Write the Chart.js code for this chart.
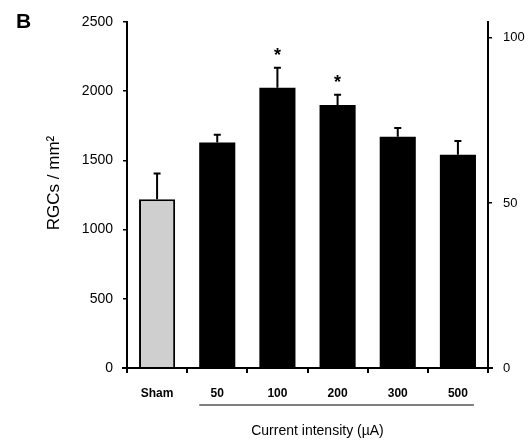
<!DOCTYPE html>
<html>
<head>
<meta charset="utf-8">
<script src="https://cdn.jsdelivr.net/npm/chart.js@4/dist/chart.umd.min.js"></script>
<style>
  body { margin: 0; background: #fff; }
  #wrap { width: 530px; height: 441px; position: relative; }
</style>
</head>
<body>
<div id="wrap"><canvas id="rgcChart" width="530" height="441"></canvas></div>
<script>
// data
const categories = ['Sham', '50', '100', '200', '300', '500'];
const rgcMeans = [1220, 1630, 2025, 1900, 1670, 1540];
const rgcErrors = [185, 55, 145, 75, 65, 100];
const significant = [false, false, true, true, false, false];
const leftTicks = [0, 500, 1000, 1500, 2000, 2500];
const rightTicks = [0, 50, 100];

const FONT = '"Liberation Sans", Arial, sans-serif';

// error bars, asterisks, panel letter, axis titles and the underline below the stimulated groups
const extras = {
    id: 'extras',
    afterDatasetsDraw(chart) {
        const ctx = chart.ctx;
        const x = chart.scales.x;
        const y = chart.scales.y;
        const area = chart.chartArea;
        ctx.save();
        ctx.strokeStyle = '#000';
        ctx.fillStyle = '#000';
        ctx.lineWidth = 2;
        rgcMeans.forEach((m, i) => {
            const cx = x.getPixelForValue(i);
            const yTop = y.getPixelForValue(m);
            const yErr = y.getPixelForValue(m + rgcErrors[i]);
            ctx.beginPath();
            ctx.moveTo(cx, yTop);
            ctx.lineTo(cx, yErr);
            ctx.moveTo(cx - 3.5, yErr);
            ctx.lineTo(cx + 3.5, yErr);
            ctx.stroke();
            if (significant[i]) {
                ctx.font = 'bold 18px ' + FONT;
                ctx.textAlign = 'center';
                ctx.textBaseline = 'middle';
                ctx.fillText('*', cx, yErr - 12);
            }
        });
        // panel letter
        ctx.font = 'bold 21px ' + FONT;
        ctx.textAlign = 'left';
        ctx.textBaseline = 'middle';
        ctx.fillText('B', 16, 22);
        // y axis title
        ctx.save();
        ctx.translate(54, 183);
        ctx.rotate(-Math.PI / 2);
        ctx.font = '17px ' + FONT;
        ctx.textAlign = 'center';
        ctx.textBaseline = 'middle';
        ctx.fillText('RGCs / mm²', 0, 0);
        ctx.restore();
        // x axis title
        ctx.font = '14px ' + FONT;
        ctx.textAlign = 'center';
        ctx.textBaseline = 'middle';
        ctx.fillText('Current intensity (µA)', (area.left + area.right) / 2 + 10, 431);
        // line under 50..500
        ctx.lineWidth = 1.2;
        ctx.beginPath();
        ctx.moveTo(x.getPixelForValue(1) - 18, 405);
        ctx.lineTo(x.getPixelForValue(5) + 16, 405);
        ctx.stroke();
        // x axis line runs a little past both vertical axes
        ctx.lineWidth = 2;
        ctx.beginPath();
        ctx.moveTo(area.left - 5, area.bottom);
        ctx.lineTo(area.right + 5, area.bottom);
        ctx.stroke();
        ctx.restore();
    }
};

new Chart(document.getElementById('rgcChart'), {
    type: 'bar',
    data: {
        labels: categories,
        datasets: [{
            data: rgcMeans,
            backgroundColor: rgcMeans.map((v, i) => i === 0 ? '#cfcfcf' : '#000'),
            borderColor: '#000',
            borderWidth: rgcMeans.map((v, i) => i === 0 ? 2 : 0),
            barPercentage: 0.6,
            categoryPercentage: 1.0
        }]
    },
    options: {
        responsive: false,
        animation: false,
        layout: { padding: { top: 22, left: 0, right: 0, bottom: 0 } },
        plugins: { legend: { display: false }, tooltip: { enabled: false } },
        scales: {
            x: {
                offset: true,
                border: { display: true, color: '#000', width: 2 },
                grid: { display: true, offset: true, drawOnChartArea: false, drawTicks: true, tickLength: 5, color: '#000', lineWidth: 2 },
                ticks: { color: '#000', font: { family: FONT, size: 12, weight: 'bold' }, padding: 13 },
                afterFit: s => { s.height = 73; }
            },
            y: {
                position: 'left',
                min: 0,
                max: 2500,
                border: { display: true, color: '#000', width: 2 },
                grid: { drawOnChartArea: false, drawTicks: true, tickLength: 4, color: '#000', lineWidth: 1.5 },
                ticks: { color: '#000', font: { family: FONT, size: 14 }, padding: 10, callback: v => String(v) },
                afterBuildTicks: s => { s.ticks = leftTicks.map(v => ({ value: v })); },
                afterFit: s => { s.width = 127; }
            },
            y1: {
                position: 'right',
                min: 0,
                max: 104.8,
                border: { display: true, color: '#000', width: 2 },
                grid: { drawOnChartArea: false, drawTicks: true, tickLength: 4, color: '#000', lineWidth: 1.5 },
                ticks: { color: '#000', font: { family: FONT, size: 13 }, padding: 11, callback: v => String(v) },
                afterBuildTicks: s => { s.ticks = rightTicks.map(v => ({ value: v })); },
                afterFit: s => { s.width = 42; }
            }
        }
    },
    plugins: [extras]
});
</script>
</body>
</html>
